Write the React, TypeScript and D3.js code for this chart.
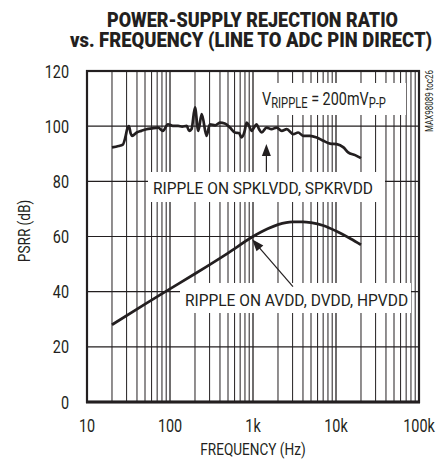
import React, { useLayoutEffect, useRef, useState } from "react";
import * as d3 from "d3";

const WIDTH = 438;
const HEIGHT = 465;
const MARGIN = { top: 71, right: 19, bottom: 63, left: 87 };

const TITLE_LINES = ["POWER-SUPPLY REJECTION RATIO", "vs. FREQUENCY (LINE TO ADC PIN DIRECT)"];
const X_TICKS = [10, 100, 1000, 10000, 100000];
const X_TICK_LABELS = ["10", "100", "1k", "10k", "100k"];
const Y_TICKS = [0, 20, 40, 60, 80, 100, 120];

// SPKLVDD / SPKRVDD ripple
const spkFreq = [20, 24, 27, 29, 30.5, 32, 33.5, 35, 39.7, 45, 52, 60, 72, 82, 94.5, 108, 125, 140, 159, 170, 182, 200, 219, 241, 276, 302, 350, 400, 457, 527, 606, 680, 727, 790, 838, 900, 960, 1030, 1100, 1180, 1273, 1456, 1670, 1924, 2220, 2550, 3050, 3500, 4020, 4850, 5860, 7040, 8480, 10200, 12300, 14000, 17000, 20000];
const spkPsrr = [92.3, 92.8, 93.3, 96, 99, 100, 97.5, 96.5, 97.7, 98.3, 98.9, 99.2, 99.5, 98.3, 100.7, 100.1, 100.1, 99.8, 100.1, 98.3, 99, 106.8, 98.3, 104.4, 96.5, 100.7, 100.3, 101.3, 101, 99.5, 97.7, 97.5, 95.9, 98, 101.3, 100, 98.3, 99.5, 100.7, 99, 97.7, 99.5, 98.9, 99.5, 98.3, 98.9, 97.1, 97.7, 96.5, 96.5, 95.9, 94.7, 93.7, 93.5, 92.3, 90.5, 89.5, 88.4];

// AVDD / DVDD / HPVDD ripple
const avddFreq = [20, 50, 100, 200, 500, 1000, 1500, 2000, 3000, 4000, 5000, 7000, 10000, 15000, 20000];
const avddPsrr = [28, 35.5, 41, 46.5, 54, 60, 62.8, 64.3, 65.3, 65.3, 65, 64, 62, 59.2, 57];

const FONT = "Roboto, 'Liberation Sans', Arial, sans-serif";
const INK = "#231f20";
const SQUEEZE = 0.8;

// narrow text: Roboto squeezed sideways to look like a condensed face
const Narrow = ({ x, y, size, anchor = "start", rotate = 0, weight, children }: any) => (
  <text
    transform={`translate(${x},${y}) rotate(${rotate}) scale(${SQUEEZE},1)`}
    textAnchor={anchor}
    fontSize={size}
    fontWeight={weight}
    fill={INK}
  >
    {children}
  </text>
);

// text squeezed to an exact width, measured once it is laid out
const FitText = ({ cx, y, width, size, weight, children }: any) => {
  const ref = useRef<SVGTextElement>(null);
  const [sx, setSx] = useState(SQUEEZE);
  useLayoutEffect(() => {
    if (!ref.current) return;
    const w = ref.current.getComputedTextLength();
    if (w > 0) setSx(width / w);
  }, [width, children]);
  return (
    <text
      ref={ref}
      transform={`translate(${cx},${y}) scale(${sx},1)`}
      textAnchor="middle"
      fontSize={size}
      fontWeight={weight}
      fill={INK}
    >
      {children}
    </text>
  );
};

export default function App() {
  const bw = WIDTH - MARGIN.left - MARGIN.right;
  const bh = HEIGHT - MARGIN.top - MARGIN.bottom;
  const x = d3.scaleLog().domain([10, 100000]).range([0, bw]);
  const y = d3.scaleLinear().domain([0, 120]).range([bh, 0]);

  const line = d3
    .line<[number, number]>()
    .x((d) => x(d[0]))
    .y((d) => y(d[1]))
    .curve(d3.curveMonotoneX);

  const spkPath = line(spkFreq.map((f, i) => [f, spkPsrr[i]]));
  const avddPath = line(avddFreq.map((f, i) => [f, avddPsrr[i]]));

  const minor: number[] = [];
  for (let dec = 10; dec < 100000; dec *= 10) {
    for (let k = 2; k <= 9; k++) minor.push(dec * k);
  }

  // annotation anchors in data space
  const upArrowX = x(1450);
  const upTipY = y(93.5);
  const lowTip: [number, number] = [x(975), y(59)];
  const lowTail: [number, number] = [x(3030), y(41.8)];
  const ang = Math.atan2(lowTip[1] - lowTail[1], lowTip[0] - lowTail[0]);
  const ah = 12;
  const aw = 4.5;
  const headPts = [
    lowTip,
    [lowTip[0] - ah * Math.cos(ang) + aw * Math.sin(ang), lowTip[1] - ah * Math.sin(ang) - aw * Math.cos(ang)],
    [lowTip[0] - ah * Math.cos(ang) - aw * Math.sin(ang), lowTip[1] - ah * Math.sin(ang) + aw * Math.cos(ang)],
  ];

  return (
    <svg
      width={WIDTH}
      height={HEIGHT}
      style={{ position: "absolute", left: 0, top: 0, background: "#fff" }}
      fontFamily={FONT}
    >
      <rect width={WIDTH} height={HEIGHT} fill="#fff" />
      <FitText cx={252.5} y={27} width={291} size={21} weight="900">
        {TITLE_LINES[0]}
      </FitText>
      <FitText cx={251} y={47} width={362} size={21} weight="900">
        {TITLE_LINES[1]}
      </FitText>

      <g transform={`translate(${MARGIN.left},${MARGIN.top})`}>
        {minor.map((f) => (
          <line key={f} x1={x(f)} x2={x(f)} y1={0} y2={bh} stroke={INK} strokeWidth={1} />
        ))}
        {X_TICKS.map((f) => (
          <line key={f} x1={x(f)} x2={x(f)} y1={0} y2={bh} stroke={INK} strokeWidth={1.3} />
        ))}
        {Y_TICKS.map((v) => (
          <line key={v} x1={0} x2={bw} y1={y(v)} y2={y(v)} stroke={INK} strokeWidth={1.2} />
        ))}

        {/* label boxes hide the grid */}
        <rect x={171} y={12} width={148} height={32} fill="#fff" />
        <rect x={61} y={101} width={237} height={30} fill="#fff" />
        <rect x={93} y={212} width={231} height={30} fill="#fff" />

        <path d={spkPath ?? ""} fill="none" stroke={INK} strokeWidth={2.7} strokeLinejoin="round" />
        <path d={avddPath ?? ""} fill="none" stroke={INK} strokeWidth={2.7} strokeLinejoin="round" />

        {/* upward arrow */}
        <line x1={upArrowX} x2={upArrowX} y1={upTipY + 8} y2={101} stroke={INK} strokeWidth={1.2} />
        <polygon
          points={`${upArrowX},${upTipY} ${upArrowX - 4.5},${upTipY + 12} ${upArrowX + 4.5},${upTipY + 12}`}
          fill={INK}
        />
        {/* diagonal arrow */}
        <line
          x1={lowTail[0]}
          y1={lowTail[1]}
          x2={lowTip[0] - 6 * Math.cos(ang)}
          y2={lowTip[1] - 6 * Math.sin(ang)}
          stroke={INK}
          strokeWidth={1.2}
        />
        <polygon points={headPts.map((p) => p.join(",")).join(" ")} fill={INK} />

        <Narrow x={175} y={34} size={18}>
          V<tspan fontSize={14} dy={3}>RIPPLE</tspan>
          <tspan fontSize={18} dy={-3}> = 200mV</tspan>
          <tspan fontSize={14} dy={3}>P-P</tspan>
        </Narrow>
        <FitText cx={176} y={123} width={220} size={17}>
          RIPPLE ON SPKLVDD, SPKRVDD
        </FitText>
        <FitText cx={209.5} y={235} width={223} size={17}>
          RIPPLE ON AVDD, DVDD, HPVDD
        </FitText>

        <rect x={0} y={0} width={bw} height={bh} fill="none" stroke={INK} strokeWidth={2.2} />
        <line x1={-1} x2={bw + 1} y1={bh} y2={bh} stroke={INK} strokeWidth={3} />

        {Y_TICKS.map((v) => (
          <Narrow key={v} x={-18} y={y(v) + 6.5} anchor="end" size={18}>
            {v}
          </Narrow>
        ))}
        {X_TICK_LABELS.map((t, i) => (
          <Narrow key={t} x={x(X_TICKS[i])} y={bh + 30} anchor="middle" size={18}>
            {t}
          </Narrow>
        ))}
        <Narrow x={bw / 2} y={bh + 53} anchor="middle" size={17}>
          FREQUENCY (Hz)
        </Narrow>
        <Narrow x={-57} y={160} anchor="middle" size={17} rotate={-90}>
          PSRR (dB)
        </Narrow>
        <Narrow x={bw + 14} y={-1} anchor="end" size={10} rotate={-90}>
          MAX98089 toc26
        </Narrow>
      </g>
    </svg>
  );
}
